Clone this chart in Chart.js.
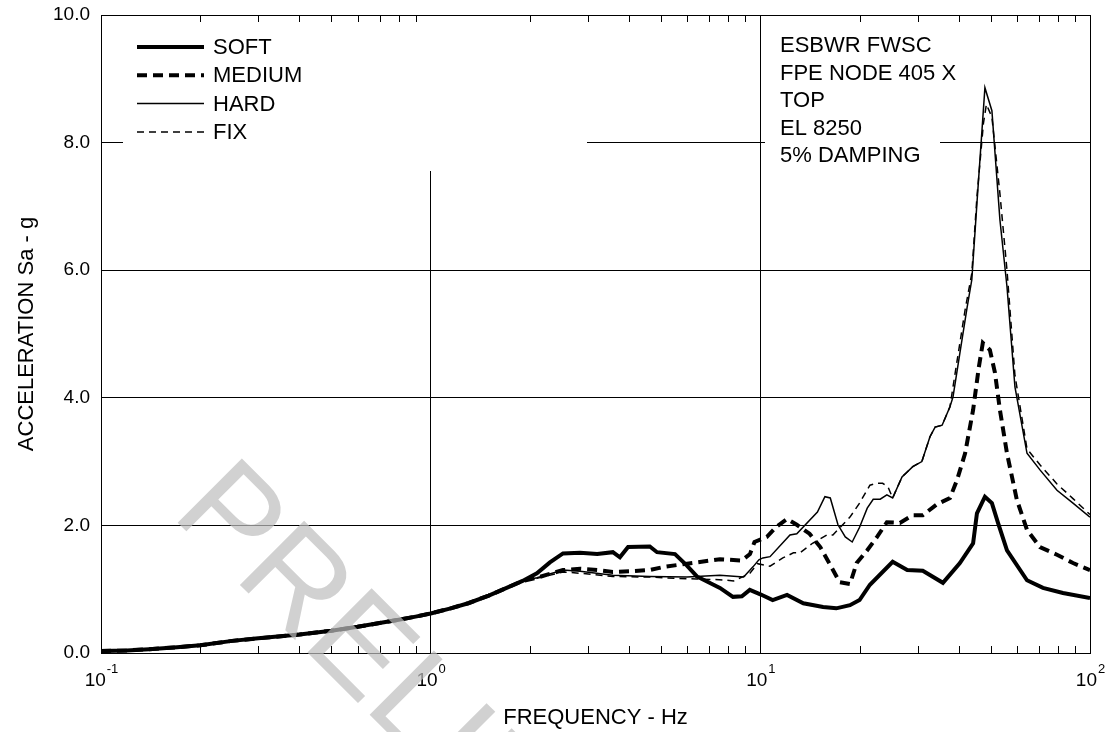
<!DOCTYPE html>
<html>
<head>
<meta charset="utf-8">
<script src="https://cdn.jsdelivr.net/npm/chart.js@4.4.1/dist/chart.umd.min.js"></script>
<style>
  html, body { margin: 0; padding: 0; background: #fff; }
  #wrap { width: 1113px; height: 732px; }
</style>
</head>
<body>
<div id="wrap"><canvas id="rs"></canvas></div>
<script>
// frequency (Hz) and spectral acceleration (g)
const freqLow = [0.1, 0.12, 0.14, 0.17, 0.2, 0.25, 0.3, 0.4, 0.5, 0.6, 0.7, 0.8, 0.9, 1.0, 1.15, 1.3, 1.5, 1.7, 1.9];
const accLow = [0.03, 0.04, 0.06, 0.09, 0.12, 0.19, 0.23, 0.29, 0.35, 0.41, 0.47, 0.52, 0.57, 0.62, 0.70, 0.78, 0.90, 1.02, 1.13];

const freqSoft = [2.1, 2.3, 2.52, 2.84, 3.2, 3.57, 3.75, 3.97, 4.62, 4.86, 5.51, 5.99, 6.42, 7.54, 8.26, 8.79, 9.29, 10.0, 10.9, 12.05, 13.5, 15.5, 17.0, 18.7, 20.0, 21.5, 25.2, 27.9, 31.1, 35.8, 40.3, 44.2, 45.4, 48.0, 50.4, 52.6, 56.0, 64.4, 72.0, 82.8, 100];
const accSoft = [1.25, 1.42, 1.56, 1.57, 1.55, 1.58, 1.50, 1.66, 1.67, 1.58, 1.55, 1.37, 1.20, 1.02, 0.88, 0.89, 0.99, 0.92, 0.83, 0.91, 0.78, 0.72, 0.70, 0.75, 0.83, 1.07, 1.43, 1.30, 1.29, 1.10, 1.41, 1.72, 2.19, 2.45, 2.35, 2.04, 1.61, 1.14, 1.02, 0.94, 0.86];

const freqMedium = [2.1, 2.52, 2.84, 3.2, 3.57, 4.0, 4.62, 5.1, 5.99, 7.54, 8.79, 9.3, 9.6, 10.47, 11.2, 12.05, 12.9, 14.1, 15.2, 16.3, 17.4, 18.7, 19.6, 21.1, 22.6, 24.2, 26.5, 29.0, 31.1, 34.3, 37.6, 39.5, 41.8, 44.2, 46.0, 47.3, 49.7, 51.5, 53.3, 56.0, 60.0, 64.4, 70.5, 79.4, 88.8, 100];
const accMedium = [1.18, 1.30, 1.32, 1.30, 1.27, 1.28, 1.30, 1.35, 1.40, 1.47, 1.45, 1.55, 1.74, 1.82, 1.98, 2.10, 2.01, 1.87, 1.66, 1.38, 1.11, 1.08, 1.41, 1.61, 1.82, 2.05, 2.04, 2.16, 2.16, 2.33, 2.43, 2.71, 3.13, 3.81, 4.48, 4.86, 4.75, 4.39, 3.81, 3.13, 2.40, 1.93, 1.66, 1.54, 1.41, 1.30];

const freqHard = [2.1, 2.52, 2.84, 3.57, 4.62, 5.99, 7.54, 8.9, 9.5, 9.9, 10.18, 10.7, 12.3, 12.9, 14.9, 15.7, 16.3, 17.2, 18.1, 19.0, 20.0, 21.1, 22.0, 23.1, 24.2, 25.2, 26.9, 29.0, 30.9, 32.7, 33.9, 35.6, 37.6, 38.4, 40.3, 42.4, 43.8, 45.4, 48.0, 50.4, 53.3, 56.0, 59.2, 64.4, 70.5, 79.4, 88.8, 100];
const accHard = [1.18, 1.30, 1.28, 1.22, 1.20, 1.19, 1.22, 1.19, 1.35, 1.46, 1.49, 1.51, 1.85, 1.87, 2.21, 2.45, 2.43, 2.01, 1.82, 1.74, 1.97, 2.27, 2.41, 2.41, 2.48, 2.43, 2.76, 2.92, 3.00, 3.39, 3.54, 3.57, 3.86, 4.01, 4.70, 5.42, 5.85, 7.05, 8.86, 8.50, 6.79, 5.74, 4.17, 3.13, 2.87, 2.55, 2.35, 2.13];

const freqFix = [2.1, 2.52, 2.84, 3.57, 4.62, 5.5, 6.4, 7.5, 8.3, 8.8, 9.3, 9.8, 10.7, 11.7, 12.6, 13.2, 14.4, 15.9, 16.6, 18.7, 20.0, 21.5, 22.6, 23.5, 24.4, 25.2, 26.9, 29.0, 30.9, 32.7, 33.9, 35.6, 37.6, 39.0, 41.8, 43.8, 45.4, 47.5, 48.5, 50.4, 53.3, 56.0, 59.2, 64.4, 70.5, 79.4, 88.8, 100];
const accFix = [1.17, 1.27, 1.25, 1.20, 1.19, 1.17, 1.16, 1.15, 1.13, 1.19, 1.25, 1.40, 1.36, 1.49, 1.57, 1.57, 1.72, 1.85, 1.85, 2.13, 2.35, 2.63, 2.66, 2.66, 2.60, 2.43, 2.76, 2.92, 3.00, 3.39, 3.54, 3.57, 3.86, 4.39, 5.38, 5.95, 7.15, 8.30, 8.60, 8.40, 7.20, 6.00, 4.35, 3.20, 2.95, 2.65, 2.42, 2.17];

const seriesNames = ['SOFT', 'MEDIUM', 'HARD', 'FIX'];
const xDecades = [0.1, 1, 10, 100];
const xExponents = ['-1', '0', '1', '2'];
const noteLines = ['ESBWR FWSC', 'FPE NODE 405 X', 'TOP', 'EL 8250', '5% DAMPING'];
const stampText = 'PRELIMINARY';

const FONT = '"Liberation Sans", Arial, sans-serif';

function pts(fx, ay) {
    const f = freqLow.concat(fx);
    const a = accLow.concat(ay);
    return f.map((v, i) => ({ x: v, y: a[i] }));
}

const lineStyles = [
    { borderWidth: 4, borderDash: [] },
    { borderWidth: 4, borderDash: [10, 6] },
    { borderWidth: 1.5, borderDash: [] },
    { borderWidth: 1.5, borderDash: [7, 5] }
];

const datasets = [
    pts(freqSoft, accSoft),
    pts(freqMedium, accMedium),
    pts(freqHard, accHard),
    pts(freqFix, accFix)
].map((d, i) => ({
    label: seriesNames[i],
    data: d,
    borderColor: '#000',
    borderWidth: lineStyles[i].borderWidth,
    borderDash: lineStyles[i].borderDash,
    pointRadius: 0,
    tension: 0,
    fill: false
}));

// boxes, minor ticks, labels, legend, notes and the stamp
const decor = {
    id: 'decor',
    beforeDatasetsDraw(chart) {
        const ctx = chart.ctx;
        const a = chart.chartArea;
        const xs = chart.scales.x;
        ctx.save();
        ctx.fillStyle = '#fff';
        ctx.fillRect(123, a.top + 1, 464, 155);   // legend box
        ctx.fillRect(765, a.top + 1, 175, 160);   // note box
        ctx.strokeStyle = '#000';
        ctx.lineWidth = 1;
        ctx.beginPath();
        for (let d = 0; d < 3; d++) {
            for (let k = 2; k <= 9; k++) {
                const x = Math.round(xs.getPixelForValue(k * xDecades[d])) + 0.5;
                ctx.moveTo(x, a.bottom);
                ctx.lineTo(x, a.bottom - 7);
                ctx.moveTo(x, a.top);
                ctx.lineTo(x, a.top + 7);
            }
        }
        ctx.stroke();
        ctx.restore();
    },
    afterDraw(chart) {
        const ctx = chart.ctx;
        const a = chart.chartArea;
        const xs = chart.scales.x;
        ctx.save();
        ctx.fillStyle = '#000';

        // x tick labels with exponents
        xDecades.forEach((v, i) => {
            const x = xs.getPixelForValue(v);
            ctx.font = '19px ' + FONT;
            const wb = ctx.measureText('10').width;
            ctx.font = '13px ' + FONT;
            const we = ctx.measureText(xExponents[i]).width;
            const x0 = x - (wb + we) / 2;
            ctx.textAlign = 'left';
            ctx.textBaseline = 'middle';
            ctx.font = '19px ' + FONT;
            ctx.fillText('10', x0, 681);
            ctx.font = '13px ' + FONT;
            ctx.fillText(xExponents[i], x0 + wb + 1, 669);
        });

        // axis titles
        ctx.font = '22px ' + FONT;
        ctx.textAlign = 'center';
        ctx.textBaseline = 'middle';
        ctx.fillText('FREQUENCY - Hz', (a.left + a.right) / 2, 718);
        ctx.save();
        ctx.translate(27, (a.top + a.bottom) / 2);
        ctx.rotate(-Math.PI / 2);
        ctx.fillText('ACCELERATION Sa - g', 0, 0);
        ctx.restore();

        // legend
        ctx.textAlign = 'left';
        ctx.font = '22px ' + FONT;
        chart.data.datasets.forEach((ds, i) => {
            const y = 47 + 28.3 * i;
            ctx.save();
            ctx.strokeStyle = '#000';
            ctx.lineWidth = ds.borderWidth;
            ctx.setLineDash(ds.borderDash);
            ctx.beginPath();
            ctx.moveTo(137, y);
            ctx.lineTo(204, y);
            ctx.stroke();
            ctx.restore();
            ctx.fillText(ds.label, 213, y + 1);
        });

        // note block
        noteLines.forEach((t, i) => {
            ctx.fillText(t, 780, 46 + 27.5 * i);
        });

        // stamp on top of everything
        ctx.save();
        ctx.fillStyle = 'rgba(190,190,190,0.7)';
        ctx.font = '132px ' + FONT;
        ctx.textAlign = 'left';
        ctx.textBaseline = 'alphabetic';
        ctx.translate(170, 515);
        ctx.rotate(45 * Math.PI / 180);
        ctx.fillText(stampText, 0, 0);
        ctx.restore();

        ctx.restore();
    }
};

new Chart(document.getElementById('rs'), {
    type: 'line',
    data: { datasets: datasets },
    options: {
        responsive: true,
        maintainAspectRatio: false,
        animation: false,
        devicePixelRatio: 1,
        layout: { padding: { top: 15, right: 23, left: 0, bottom: 0 } },
        plugins: {
            legend: { display: false },
            tooltip: { enabled: false }
        },
        scales: {
            x: {
                type: 'logarithmic',
                min: 0.1,
                max: 100,
                afterBuildTicks: scale => { scale.ticks = xDecades.map(v => ({ value: v })); },
                afterFit: scale => {
                    scale.height = 79;
                    scale.paddingLeft = 0;
                    scale.paddingRight = 0;
                },
                ticks: { display: false },
                grid: { color: '#000', lineWidth: 1, drawTicks: false },
                border: { color: '#000', width: 1 }
            },
            y: {
                type: 'linear',
                min: 0,
                max: 10,
                afterFit: scale => {
                    scale.width = 101;
                    scale.paddingTop = 0;
                    scale.paddingBottom = 0;
                },
                ticks: {
                    stepSize: 2,
                    padding: 11,
                    color: '#000',
                    font: { family: FONT, size: 19 },
                    callback: v => v.toFixed(1)
                },
                grid: { color: '#000', lineWidth: 1, drawTicks: false },
                border: { color: '#000', width: 1 }
            }
        }
    },
    plugins: [decor]
});
</script>
</body>
</html>
